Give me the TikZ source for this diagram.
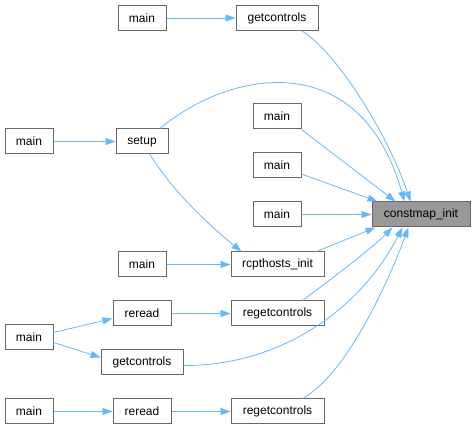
\documentclass[tikz,border=0pt]{standalone}
\usepackage{fontspec}
\setmainfont{Liberation Sans}
\usetikzlibrary{arrows.meta}
\definecolor{edgeblue}{HTML}{63B8FF}
\definecolor{boxgray}{HTML}{666666}
\definecolor{focusfill}{HTML}{999999}

\begin{document}
\begin{tikzpicture}[
  x=1pt,
  y=-1pt,
  >={Triangle[length=10pt,width=7pt]},
  flow/.style={->,draw=edgeblue,line width=.8pt},
  fn/.style={draw=boxgray,fill=white,line width=1pt,inner sep=0pt,
    minimum height=25pt,font=\fontsize{12}{14}\selectfont},
  focus/.style={fn,fill=focusfill}
]
\useasboundingbox (0,0) rectangle (475,430);

\node[focus,minimum width=98pt] (cmi) at (421,214.5) {constmap\_init};

\node[fn,minimum width=48pt] (mainA) at (142,18) {main};
\node[fn,minimum width=82pt] (gcA) at (277,18) {getcontrols};
\node[fn,minimum width=48pt] (mainB) at (29,141.5) {main};
\node[fn,minimum width=52pt] (setup) at (142,141.5) {setup};
\node[fn,minimum width=48pt] (mainC) at (277,116.5) {main};
\node[fn,minimum width=48pt] (mainD) at (277,165) {main};
\node[fn,minimum width=48pt] (mainE) at (277,214.5) {main};
\node[fn,minimum width=48pt] (mainF) at (142,264.5) {main};
\node[fn,minimum width=93pt] (rcpt) at (277.5,264.5) {rcpthosts\_init};
\node[fn,minimum width=58pt] (rereadA) at (142,313.5) {reread};
\node[fn,minimum width=93pt] (regcA) at (277.5,313.5) {regetcontrols};
\node[fn,minimum width=48pt] (mainG) at (29,337.5) {main};
\node[fn,minimum width=82pt] (gcB) at (142,362.5) {getcontrols};
\node[fn,minimum width=48pt] (mainH) at (29,411.5) {main};
\node[fn,minimum width=58pt] (rereadB) at (142,411.5) {reread};
\node[fn,minimum width=93pt] (regcB) at (277.5,411.5) {regetcontrols};

% callers of constmap_init
\draw[flow] ([xshift=25pt]gcA.south) .. controls (340,55) and (390,140)
  .. ([xshift=39pt]cmi.north west);
\draw[flow] ([xshift=18pt]setup.north) .. controls (230,70) and (360,45)
  .. ([xshift=33pt]cmi.north west);
\draw[flow] (mainC.south east) -- ([xshift=24pt]cmi.north west);
\draw[flow] ([yshift=-9pt]mainD.east) -- ([xshift=6pt]cmi.north west);
\draw[flow] (mainE) -- (cmi);
\draw[flow] ([xshift=39pt]rcpt.north) -- ([xshift=4pt]cmi.south west);
\draw[flow] ([xshift=25pt]regcA.north) .. controls (330,280) and (370,250)
  .. ([xshift=21pt]cmi.south west);
\draw[flow] ([yshift=-3pt]gcB.east) .. controls (280,366) and (360,310)
  .. ([xshift=31pt]cmi.south west);
\draw[flow] ([xshift=25pt]regcB.north) .. controls (345,375) and (385,290)
  .. ([xshift=37pt]cmi.south west);

% second level
\draw[flow] (mainA) -- (gcA);
\draw[flow] (mainB) -- (setup);
\draw[flow] ([xshift=8pt]setup.south) .. controls (175,195) and (215,230)
  .. ([xshift=-36pt]rcpt.north);
\draw[flow] (mainF) -- (rcpt);
\draw[flow] (rereadA) -- (regcA);
\draw[flow] ([yshift=5pt]mainG.east) -- ([yshift=-5pt]rereadA.west);
\draw[flow] ([yshift=-5pt]mainG.east) -- ([yshift=5pt]gcB.west);
\draw[flow] (mainH) -- (rereadB);
\draw[flow] (rereadB) -- (regcB);
\end{tikzpicture}
\end{document}
